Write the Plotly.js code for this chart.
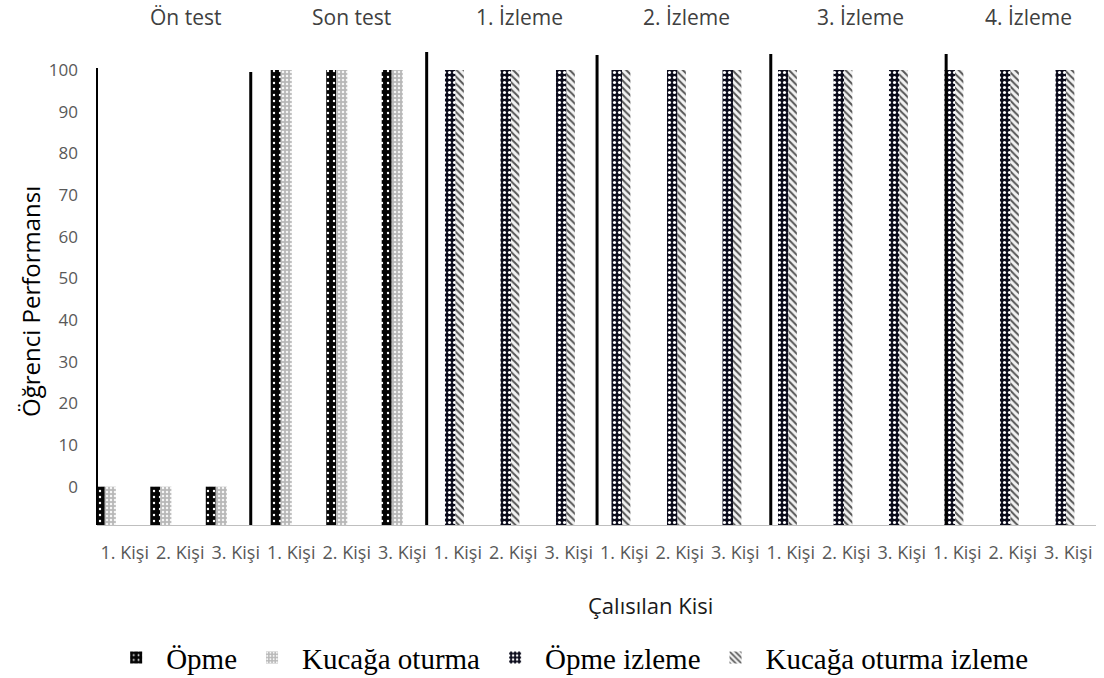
<!DOCTYPE html>
<html>
<head>
<meta charset="utf-8">
<script src="https://cdn.plot.ly/plotly-3.0.1.min.js"></script>
<style>html,body{margin:0;padding:0;background:#fff}#chart{width:1104px;height:678px}</style>
</head>
<body>
<div id="chart"></div>
<script>
// ---- data ----
const phases = ["Ön test", "Son test", "1. İzleme", "2. İzleme", "3. İzleme", "4. İzleme"];
const persons = ["1. Kişi", "2. Kişi", "3. Kişi"];
const opme = [0, 0, 0, 100, 100, 100, null, null, null, null, null, null, null, null, null, null, null, null];
const kucagaOturma = [0, 0, 0, 100, 100, 100, null, null, null, null, null, null, null, null, null, null, null, null];
const opmeIzleme = [null, null, null, null, null, null, 100, 100, 100, 100, 100, 100, 100, 100, 100, 100, 100, 100];
const kucagaOturmaIzleme = [null, null, null, null, null, null, 100, 100, 100, 100, 100, 100, 100, 100, 100, 100, 100, 100];
const yTicks = [0, 10, 20, 30, 40, 50, 60, 70, 80, 90, 100];

// ---- build ----
const xIdx = [], xText = [], phaseOf = [];
phases.forEach((ph, pi) => persons.forEach(p => { xIdx.push(xIdx.length); xText.push(p); phaseOf.push(pi); }));

const Y_MIN = -9.2, Y_MAX = 104.8;
const lift = v => v.map(d => d === null ? null : d - Y_MIN);

const SANS = "'Open Sans', 'Noto Sans', sans-serif";

function trace(name, vals, offPre, offSon, offIz, width, pattern) {
  return {
    type: "bar", name: name, x: xIdx, y: lift(vals), base: Y_MIN,
    offset: phaseOf.map(p => p === 0 ? offPre : (p === 1 ? offSon : offIz)),
    width: width,
    marker: {color: pattern.bgcolor, line: {width: 0}, pattern: pattern},
    hoverinfo: "skip"
  };
}

const data = [
  trace("Öpme", opme, -0.54, -0.37, 0, 0.18,
    {shape: ".", bgcolor: "#050505", fgcolor: "#ffffff", size: 6, solidity: 0.12, fillmode: "replace"}),
  trace("Kucağa oturma", kucagaOturma, -0.36, -0.19, 0, 0.2,
    {shape: ".", bgcolor: "#b8b8b8", fgcolor: "#f6f6f6", size: 4, solidity: 0.3, fillmode: "replace"}),
  trace("Öpme izleme", opmeIzleme, 0, 0, -0.23, 0.19,
    {shape: ".", bgcolor: "#0c0c1c", fgcolor: "#ffffff", size: 5, solidity: 0.3, fillmode: "replace"}),
  trace("Kucağa oturma izleme", kucagaOturmaIzleme, 0, 0, -0.04, 0.15,
    {shape: "\\", bgcolor: "#f2f2f2", fgcolor: "#555555", size: 5, solidity: 0.4, fillmode: "replace"})
];

// separators (decorations)
const seps = [[2.27, 72], [5.44, 52], [8.51, 55], [11.64, 54], [14.80, 54]];
const plotTop = 50, plotBot = 525, plotH = plotBot - plotTop;
const pxToPaperY = px => (plotBot - px) / plotH;
const shapes = seps.map(s => ({
  type: "line", xref: "x", yref: "paper", x0: s[0], x1: s[0], y0: 0, y1: pxToPaperY(s[1]),
  line: {color: "#000", width: 3}
}));
shapes.push({type: "line", xref: "paper", yref: "paper", x0: 0, x1: 0, y0: 0, y1: pxToPaperY(68), line: {color: "#000", width: 2}});

const titleX = [1.086, 4.08, 7.12, 10.13, 13.25, 16.28];
const annotations = phases.map((ph, i) => ({
  text: ph, x: titleX[i], xref: "x", y: pxToPaperY(17), yref: "paper",
  showarrow: false, xanchor: "center", yanchor: "middle",
  font: {family: SANS, size: 21, color: "#404040"}
}));
annotations.push({
  text: "Çalısılan Kisi", xref: "paper", x: (650 - 97) / 999, yref: "paper", y: pxToPaperY(605),
  showarrow: false, xanchor: "center", yanchor: "middle",
  font: {family: SANS, size: 22, color: "#1a1a1a"}
});
annotations.push({
  text: "Öğrenci Performansı", xref: "paper", x: (30 - 97) / 999, yref: "paper", y: pxToPaperY(302),
  showarrow: false, xanchor: "center", yanchor: "middle", textangle: -90,
  font: {family: SANS, size: 24, color: "#000"}
});

const layout = {
  width: 1104, height: 678,
  margin: {l: 97, r: 8, t: plotTop, b: 678 - plotBot, pad: 0},
  paper_bgcolor: "#fff", plot_bgcolor: "#fff",
  barmode: "overlay",
  showlegend: true,
  legend: {orientation: "h", x: 0.516, xanchor: "center", xref: "container", y: 0.03, yanchor: "middle", yref: "container",
    itemwidth: 50, itemsizing: "constant",
    font: {family: "'Liberation Serif', 'Times New Roman', serif", size: 29, color: "#000"}, traceorder: "normal"},
  xaxis: {range: [-0.5, 17.5], tickmode: "array", tickvals: xIdx, ticktext: xText, tickangle: 0,
    showgrid: false, zeroline: false, showline: true, linecolor: "#bfbfbf", linewidth: 1,
    ticks: "", ticklabelstandoff: 11, tickfont: {family: SANS, size: 18, color: "#595959"}, fixedrange: true},
  yaxis: {range: [Y_MIN, Y_MAX], tickmode: "array", tickvals: yTicks, ticktext: yTicks.map(String),
    showgrid: false, zeroline: false, showline: false, ticks: "", ticklabelstandoff: 18,
    tickfont: {family: SANS, size: 17, color: "#595959"}, fixedrange: true},
  shapes: shapes,
  annotations: annotations
};

Plotly.newPlot("chart", data, layout, {displayModeBar: false, staticPlot: true});
</script>
</body>
</html>
